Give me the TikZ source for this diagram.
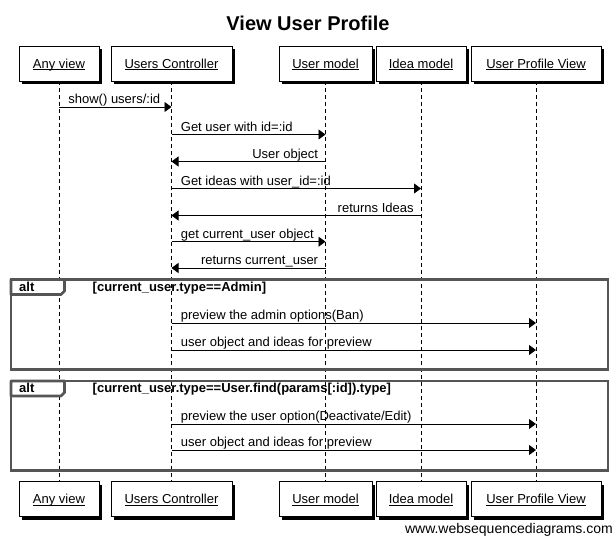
\documentclass[tikz,border=0pt]{standalone}
\usepackage{fontspec}
\setmainfont{Liberation Sans}
\usetikzlibrary{arrows.meta,shadows}
\newcommand{\myul}[1]{\setbox0\hbox{#1}\rlap{\rule[-2.2pt]{\wd0}{0.9pt}}\box0}
\definecolor{framegray}{HTML}{555555}
\begin{document}
\begin{tikzpicture}[x=1pt,y=-1pt,
  font=\fontsize{13}{15}\selectfont,
  actor/.style={draw, fill=white, line width=0.8pt, inner sep=0pt, minimum height=35pt,
    text height=10pt, text depth=1pt,
    drop shadow={shadow xshift=3pt, shadow yshift=-3pt, fill=black, opacity=1}},
  lifeline/.style={line width=0.8pt, dash pattern=on 4pt off 3pt},
  msg/.style={line width=0.8pt, -{Triangle[length=7pt,width=10pt]}},
  lblr/.style={pos=0, anchor=base west, inner sep=0pt, xshift=9pt, yshift=3.5pt},
  lbll/.style={pos=0, anchor=base east, inner sep=0pt, xshift=-7pt, yshift=3.5pt},
  frame/.style={draw=framegray, line width=2.8pt},
  tab/.style={draw=framegray, line width=2.8pt, fill=white, line join=round},
  bold/.style={font=\bfseries\fontsize{13}{15}\selectfont, inner sep=0pt}
]
\useasboundingbox (0,0) rectangle (616,538);

% title
\node[font=\bfseries\fontsize{20}{24}\selectfont, anchor=base, inner sep=0pt] (title) at (308,30) {View User Profile};

% top actors
\node[actor, minimum width=80pt]  (avT)  at (59,63.5)    {\myul{Any view}};
\node[actor, minimum width=121pt] (ucT)  at (171.5,63.5) {\myul{Users Controller}};
\node[actor, minimum width=93pt]  (umT)  at (325.5,63.5) {\myul{User model}};
\node[actor, minimum width=90pt]  (imT)  at (421,63.5)   {\myul{Idea model}};
\node[actor, minimum width=130pt] (upT)  at (536,63.5)   {\myul{User Profile View}};

% bottom actors
\node[actor, minimum width=80pt]  (avB)  at (59,499)    {\myul{Any view}};
\node[actor, minimum width=121pt] (ucB)  at (171.5,499) {\myul{Users Controller}};
\node[actor, minimum width=93pt]  (umB)  at (325.5,499) {\myul{User model}};
\node[actor, minimum width=90pt]  (imB)  at (421,499)   {\myul{Idea model}};
\node[actor, minimum width=130pt] (upB)  at (536,499)   {\myul{User Profile View}};

% lifelines
\draw[lifeline] (avT.south) -- (avB.north);
\draw[lifeline] (ucT.south) -- (ucB.north);
\draw[lifeline] (umT.south) -- (umB.north);
\draw[lifeline] (imT.south) -- (imB.north);
\draw[lifeline] (upT.south) -- (upB.north);

% frames
\draw[frame] (11,279.5) rectangle (608,369.5);
\draw[tab] (11,279.5) -- (11,294.5) -- (61,294.5) -- (64.5,291) -- (64.5,279.5) -- cycle;
\node[bold, anchor=base west] (alt1) at (19,291) {alt};
\node[bold, anchor=base west] (cond1) at (92.5,291) {[current\_user.type==Admin]};

\draw[frame] (11,381) rectangle (608,470.5);
\draw[tab] (11,381) -- (11,396) -- (61,396) -- (64.5,392.5) -- (64.5,381) -- cycle;
\node[bold, anchor=base west] (alt2) at (19,392.5) {alt};
\node[bold, anchor=base west] (cond2) at (92.5,392.5) {[current\_user.type==User.find(params[:id]).type]};

% messages
\draw[msg] (avT |- 0,107)   -- node[lblr] (l1) {show() users/:id} (ucT |- 0,107);
\draw[msg] (ucT |- 0,134.5) -- node[lblr] (l2) {Get user with id=:id} (umT |- 0,134.5);
\draw[msg] (umT |- 0,161.5) -- node[lbll] (l3) {User object} (ucT |- 0,161.5);
\draw[msg] (ucT |- 0,188.5) -- node[lblr] (l4) {Get ideas with user\_id=:id} (imT |- 0,188.5);
\draw[msg] (imT |- 0,215.5) -- node[lbll] (l5) {returns Ideas} (ucT |- 0,215.5);
\draw[msg] (ucT |- 0,241.7) -- node[lblr] (l6) {get current\_user object} (umT |- 0,241.7);
\draw[msg] (umT |- 0,268)   -- node[lbll] (l7) {returns current\_user} (ucT |- 0,268);
\draw[msg] (ucT |- 0,323)   -- node[lblr] (l8) {preview the admin options(Ban)} (upT |- 0,323);
\draw[msg] (ucT |- 0,350)   -- node[lblr] (l9) {user object and ideas for preview} (upT |- 0,350);
\draw[msg] (ucT |- 0,424)   -- node[lblr] (l10) {preview the user option(Deactivate/Edit)} (upT |- 0,424);
\draw[msg] (ucT |- 0,450)   -- node[lblr] (l11) {user object and ideas for preview} (upT |- 0,450);

% watermark
\node[anchor=base east, inner sep=0pt, font=\fontsize{14}{16}\selectfont] (wm) at (613,533) {www.websequencediagrams.com};
\end{tikzpicture}
\end{document}
